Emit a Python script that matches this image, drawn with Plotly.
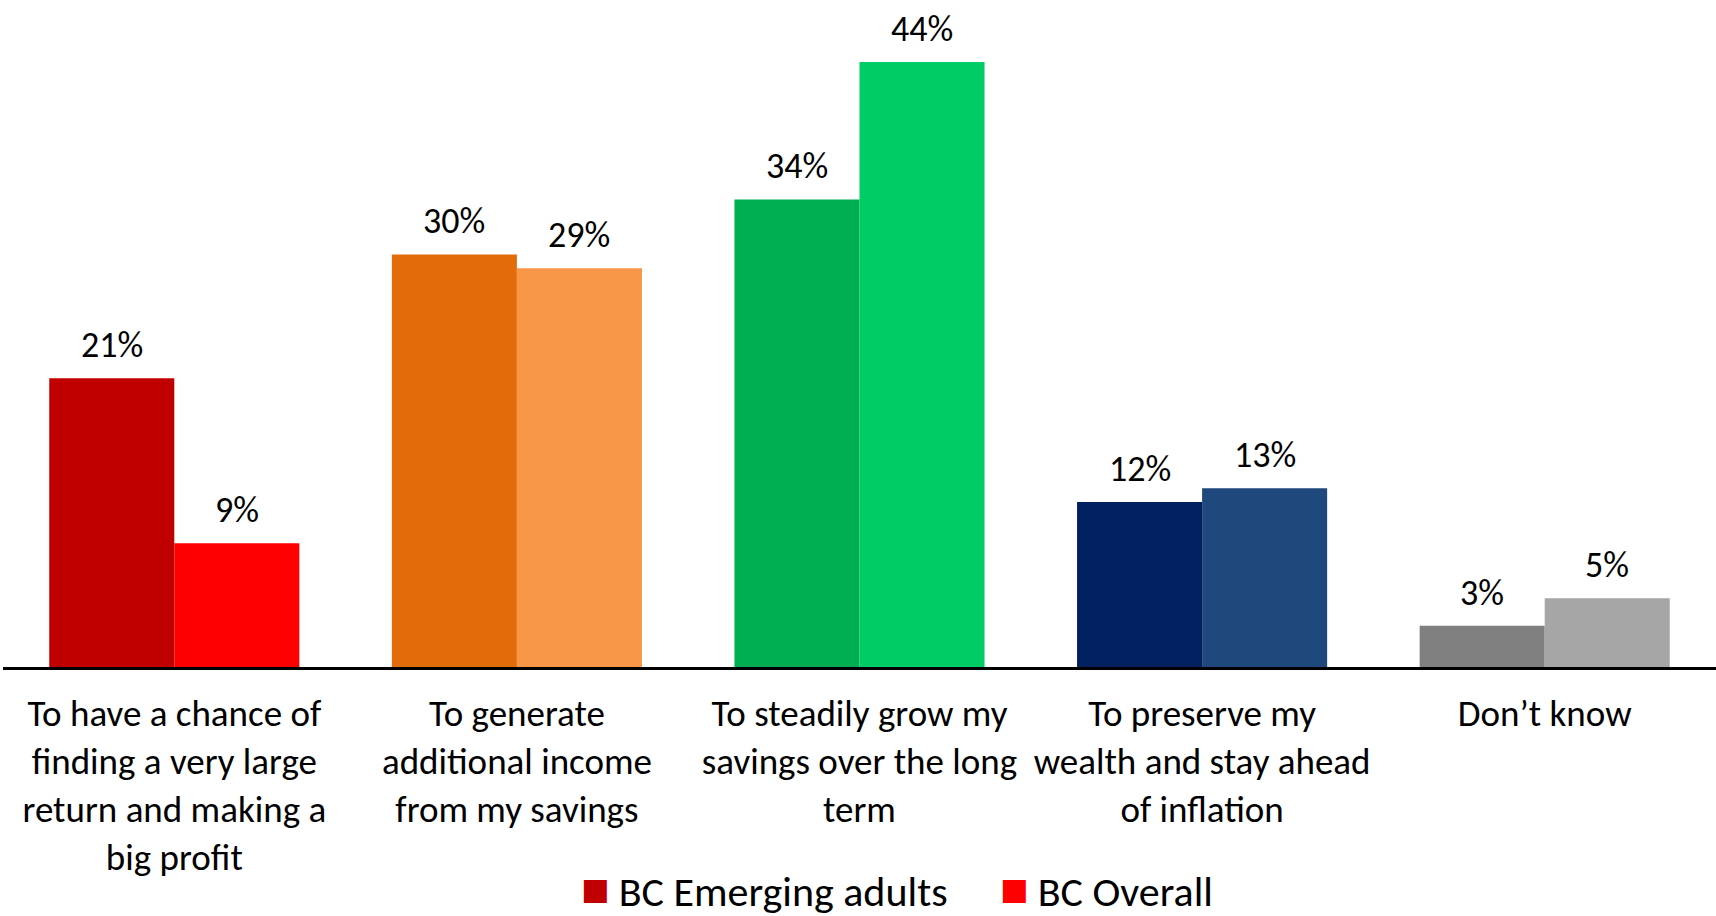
import plotly.graph_objects as go

categories = [
    "To have a chance of<br>finding a very large<br>return and making a<br>big profit",
    "To generate<br>additional income<br>from my savings",
    "To steadily grow my<br>savings over the long<br>term",
    "To preserve my<br>wealth and stay ahead<br>of inflation",
    "Don\u2019t know",
]
emerging = [21, 30, 34, 12, 3]
overall = [9, 29, 44, 13, 5]
emerging_colors = ["#C00000", "#E36C0A", "#00B050", "#002060", "#808080"]
overall_colors = ["#FF0000", "#F79646", "#00CC66", "#1F497D", "#A6A6A6"]
series_names = ["BC Emerging adults", "BC Overall"]

FONT = "Carlito, Lato, sans-serif"
W, H = 1716, 916
ML, MR, MT, MB = 3, 0, 0, 249
BARGAP = 0.27

fig = go.Figure()
for name, vals, cols in [(series_names[0], emerging, emerging_colors),
                         (series_names[1], overall, overall_colors)]:
    fig.add_trace(go.Bar(
        x=categories, y=vals, name=name, showlegend=False,
        marker=dict(color=cols, line=dict(width=0)),
        hoverinfo="x+y",
    ))
# legend entries (square glyph drawn as text so it can be sized like the reference)
for name, cols in [(series_names[0], emerging_colors), (series_names[1], overall_colors)]:
    fig.add_trace(go.Scatter(
        x=[None], y=[None], mode="markers", showlegend=True,
        name=(f"<span style='color:{cols[0]};font-family:DejaVu Sans;font-size:30px;"
              f"baseline-shift:7px'>\u25A0</span> {name}"),
        marker=dict(symbol="square", size=1, color="rgba(0,0,0,0)"),
    ))

# value labels above bars
cat_px = (W - ML - MR) / len(categories)
bar_px = cat_px * (1 - BARGAP) / 2
for j, vals in enumerate([emerging, overall]):
    for c, v in zip(categories, vals):
        fig.add_annotation(
            x=c, y=v, text=f"{v}%", showarrow=False,
            xanchor="center", yanchor="bottom",
            xshift=(j - 0.5) * bar_px, yshift=9,
            font=dict(size=36, color="black", family=FONT),
        )

fig.update_layout(
    width=W, height=H,
    margin=dict(l=ML, r=MR, t=MT, b=MB, autoexpand=False),
    paper_bgcolor="white", plot_bgcolor="white",
    barmode="group", bargap=BARGAP, bargroupgap=0,
    font=dict(family=FONT, size=37, color="black"),
    showlegend=True,
    legend=dict(orientation="h", x=0.314, xanchor="left", y=-0.334, yanchor="middle",
                font=dict(size=42, family=FONT), itemwidth=30, traceorder="normal",
                entrywidth=374, entrywidthmode="pixels",
                bgcolor="rgba(0,0,0,0)"),
    xaxis=dict(showline=True, linecolor="black", linewidth=2.5, ticks="outside",
               ticklen=12, tickcolor="rgba(0,0,0,0)", showgrid=False, automargin=False,
               tickfont=dict(size=37, family=FONT)),
    yaxis=dict(range=[0, 48.5], visible=False, showgrid=False, automargin=False),
)

fig.write_html("out.html", config={"displayModeBar": False},
               post_script="document.body.style.margin='0';document.body.style.padding='0';")
